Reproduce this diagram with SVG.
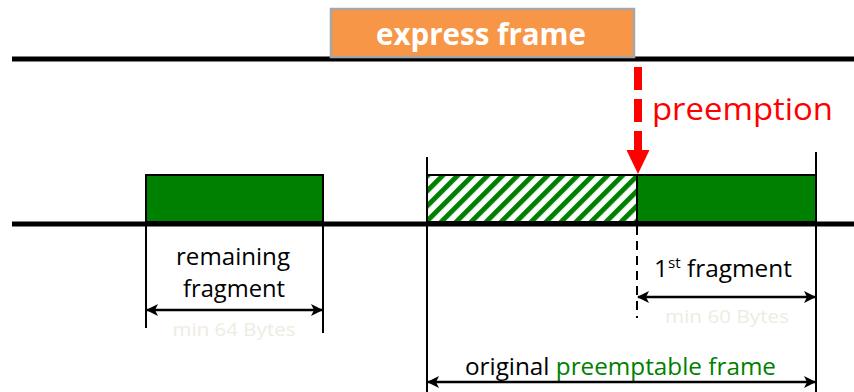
<svg xmlns="http://www.w3.org/2000/svg" width="854" height="392" viewBox="0 0 854 392">
  <style>
    .lbl { font-family: "Open Sans", "Liberation Sans", sans-serif; }
    .wire { stroke: #000; stroke-width: 5; }
    .tick { stroke: #000; stroke-width: 2; fill: none; }
    .frag { fill: #008000; stroke: #000; stroke-width: 2; }
    .dim { stroke: #000; stroke-width: 2.5; fill: none; marker-start: url(#head); marker-end: url(#head); }
    .note { fill: #EEECE1; font-size: 19px; }
    .txt { fill: #000; font-size: 24px; }
  </style>
  <defs>
    <pattern id="hatch" width="10.6" height="10.6" patternUnits="userSpaceOnUse" patternTransform="rotate(45)">
      <rect x="0" y="0" width="10.6" height="10.6" fill="#fff"/>
      <rect x="0" y="0" width="5" height="10.6" fill="#008000"/>
    </pattern>
    <marker id="head" viewBox="0 0 12 12" refX="11" refY="6" markerWidth="12" markerHeight="12" markerUnits="userSpaceOnUse" orient="auto-start-reverse">
      <path d="M0,0 L12,6 L0,12 L3,6 Z" fill="#000"/>
    </marker>
  </defs>

  <!-- transmission lines -->
  <g id="wires">
    <line class="wire" x1="12" y1="59" x2="854" y2="59"/>
    <line class="wire" x1="12" y1="224" x2="854" y2="224"/>
  </g>

  <g id="express-frame">
    <rect x="331" y="9" width="303" height="48" fill="#F79646" stroke="#A6A6A6" stroke-width="2.5"/>
    <text class="lbl" x="481" y="45" text-anchor="middle" fill="#fff" font-size="30" font-weight="bold" textLength="210" lengthAdjust="spacingAndGlyphs">express frame</text>
  </g>

  <g id="remaining-fragment">
    <rect class="frag" x="146" y="175" width="177" height="47"/>
    <text class="lbl txt" x="233" y="265" text-anchor="middle" textLength="114" lengthAdjust="spacingAndGlyphs">remaining</text>
    <text class="lbl txt" x="234" y="297" text-anchor="middle" textLength="102" lengthAdjust="spacingAndGlyphs">fragment</text>
    <text class="lbl note" x="234" y="336" text-anchor="middle" textLength="123" lengthAdjust="spacingAndGlyphs">min 64 Bytes</text>
  </g>

  <g id="preempted-part">
    <rect x="427" y="175" width="210" height="47" fill="url(#hatch)" stroke="#000" stroke-width="2"/>
  </g>

  <g id="first-fragment">
    <rect class="frag" x="637" y="175" width="179" height="47"/>
    <text class="lbl txt" x="654" y="277" textLength="138" lengthAdjust="spacingAndGlyphs">1<tspan font-size="15" dy="-9">st</tspan><tspan dy="9"> fragment</tspan></text>
    <text class="lbl note" x="727" y="323" text-anchor="middle" textLength="124" lengthAdjust="spacingAndGlyphs">min 60 Bytes</text>
  </g>

  <g id="preemption">
    <line x1="638" y1="67" x2="638" y2="152" stroke="#FF0000" stroke-width="8" stroke-dasharray="23,9"/>
    <path d="M626.5,150 L649.5,150 L638,174 Z" fill="#FF0000"/>
    <text class="lbl" x="652" y="120" fill="#FF0000" font-size="31" textLength="181" lengthAdjust="spacingAndGlyphs">preemption</text>
  </g>

  <g id="original-frame-label">
    <text class="lbl txt" x="465" y="375" textLength="311" lengthAdjust="spacingAndGlyphs">original <tspan fill="#008000">preemptable frame</tspan></text>
  </g>

  <!-- extension lines and dimension arrows -->
  <g id="connectors">
    <line class="tick" x1="146" y1="175" x2="146" y2="328"/>
    <line class="tick" x1="323" y1="175" x2="323" y2="333"/>
    <line class="tick" x1="427" y1="157" x2="427" y2="392"/>
    <line class="tick" x1="816" y1="152" x2="816" y2="392"/>
    <line class="tick" x1="637" y1="226" x2="637" y2="318" stroke-dasharray="9,6"/>
    <line class="dim" x1="147" y1="310" x2="322" y2="310"/>
    <line class="dim" x1="638" y1="297" x2="815" y2="297"/>
    <line class="dim" x1="428" y1="382" x2="815" y2="382"/>
  </g>
</svg>
